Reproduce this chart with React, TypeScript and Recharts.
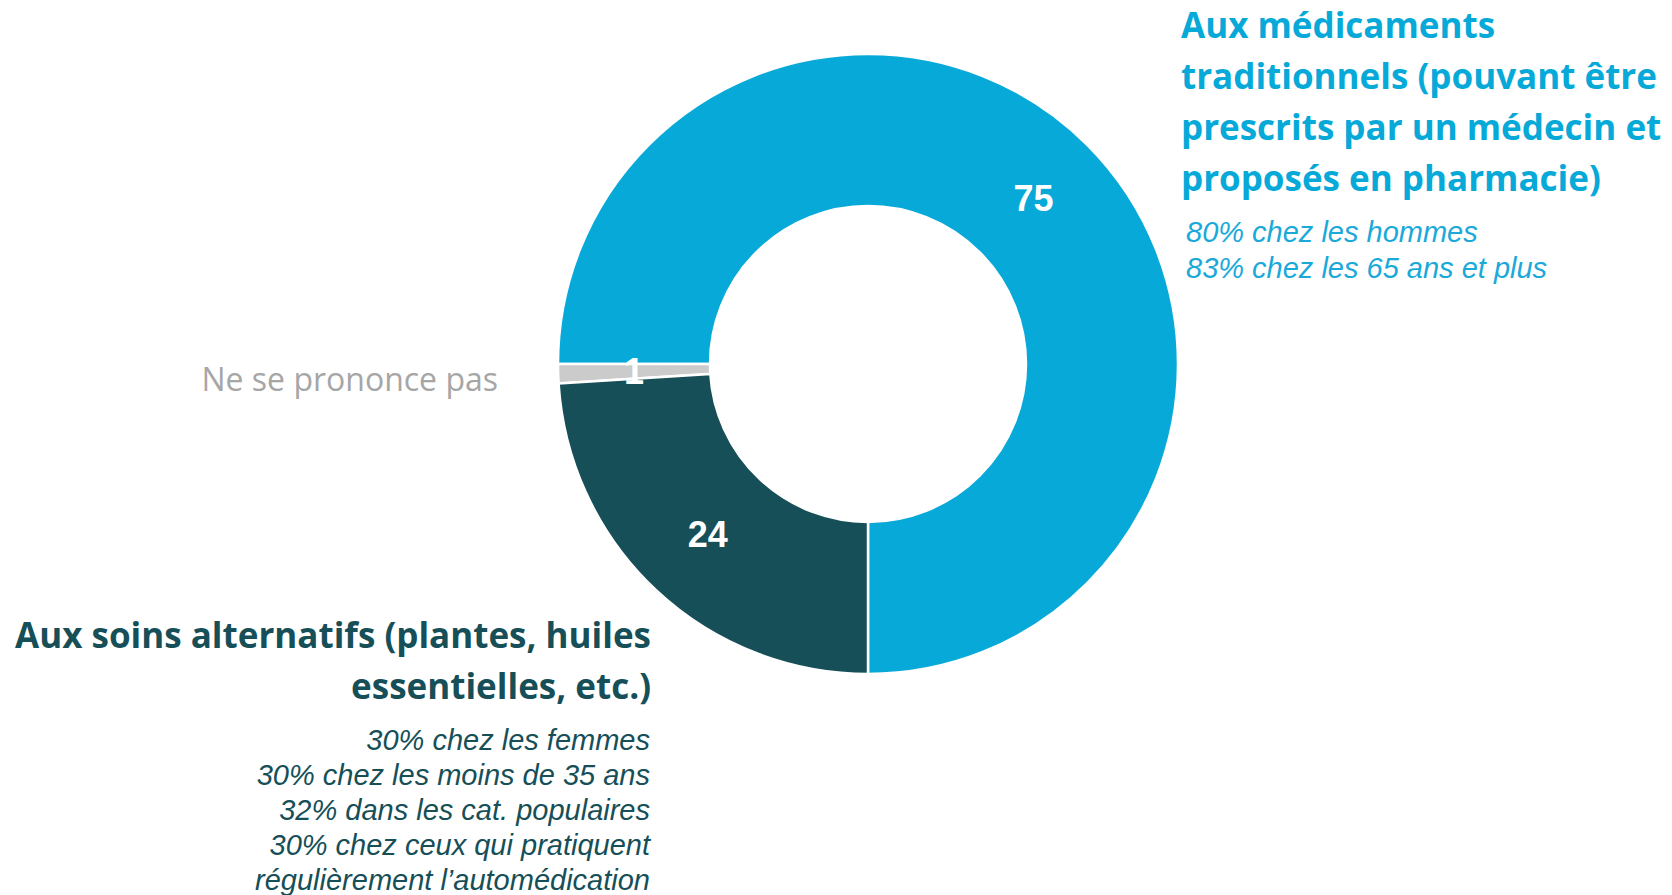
import { PieChart, Pie, Cell } from "recharts";

const CATEGORIES = [
  "Aux médicaments traditionnels",
  "Ne se prononce pas",
  "Aux soins alternatifs",
];
const VALUES = [75, 1, 24];
const COLORS = ["#06A9D8", "#CBCBCB", "#164F57"];

const RIGHT_TITLE = [
  "Aux médicaments",
  "traditionnels (pouvant être",
  "prescrits par un médecin et",
  "proposés en pharmacie)",
];
const RIGHT_NOTES = ["80% chez les hommes", "83% chez les 65 ans et plus"];

const LEFT_TITLE = ["Aux soins alternatifs (plantes, huiles", "essentielles, etc.)"];
const LEFT_NOTES = [
  "30% chez les femmes",
  "30% chez les moins de 35 ans",
  "32% dans les cat. populaires",
  "30% chez ceux qui pratiquent",
  "régulièrement l’automédication",
];

const NO_ANSWER = "Ne se prononce pas";

const W = 1672;
const H = 895;
const RAD = Math.PI / 180;

const data = CATEGORIES.map((name, i) => ({ name, value: VALUES[i] }));

function renderLabel(props: any) {
  const { cx, cy, midAngle, innerRadius, outerRadius, value } = props;
  const r = (innerRadius + outerRadius) / 2;
  const x = cx + r * Math.cos(-midAngle * RAD);
  const y = cy + r * Math.sin(-midAngle * RAD);
  return (
    <text
      x={x}
      y={y}
      fill="#FFFFFF"
      textAnchor="middle"
      dominantBaseline="central"
      fontFamily="'Liberation Sans', Arial, sans-serif"
      fontWeight={700}
      fontSize={36}
    >
      {value}
    </text>
  );
}

export default function App() {
  const heading = { fontFamily: "'Open Sans', Lato, sans-serif", fontWeight: 700, fontSize: 35 };
  const note = { fontFamily: "'Liberation Sans', Arial, sans-serif", fontStyle: "italic", fontSize: 29 };

  return (
    <div style={{ position: "absolute", left: 0, top: 0, width: W, height: H, background: "#fff" }}>
      <PieChart width={W} height={H} margin={{ top: 0, right: 0, bottom: 0, left: 0 }}>
        <Pie
          data={data}
          dataKey="value"
          nameKey="name"
          cx={868}
          cy={364}
          innerRadius={158}
          outerRadius={310}
          startAngle={-90}
          endAngle={270}
          stroke="#FFFFFF"
          strokeWidth={2.5}
          label={renderLabel}
          labelLine={false}
          isAnimationActive={false}
        >
          {data.map((_, i) => (
            <Cell key={i} fill={COLORS[i]} />
          ))}
        </Pie>
      </PieChart>

      <svg
        width={W}
        height={H}
        style={{ position: "absolute", left: 0, top: 0, pointerEvents: "none" }}
      >
        {RIGHT_TITLE.map((t, i) => (
          <text key={t} x={1181} y={38 + i * 51} fill="#06A9D8" {...heading}>
            {t}
          </text>
        ))}
        {RIGHT_NOTES.map((t, i) => (
          <text key={t} x={1186} y={242 + i * 36} fill="#1AA9D9" {...note}>
            {t}
          </text>
        ))}

        {LEFT_TITLE.map((t, i) => (
          <text key={t} x={651} y={648 + i * 51} fill="#164F57" textAnchor="end" {...heading}>
            {t}
          </text>
        ))}
        {LEFT_NOTES.map((t, i) => (
          <text key={t} x={650} y={750 + i * 35} fill="#164F57" textAnchor="end" {...note}>
            {t}
          </text>
        ))}

        <text
          x={498}
          y={391}
          fill="#A6A6A6"
          textAnchor="end"
          fontFamily="'Open Sans', Lato, sans-serif"
          fontSize={32}
        >
          {NO_ANSWER}
        </text>
      </svg>
    </div>
  );
}
